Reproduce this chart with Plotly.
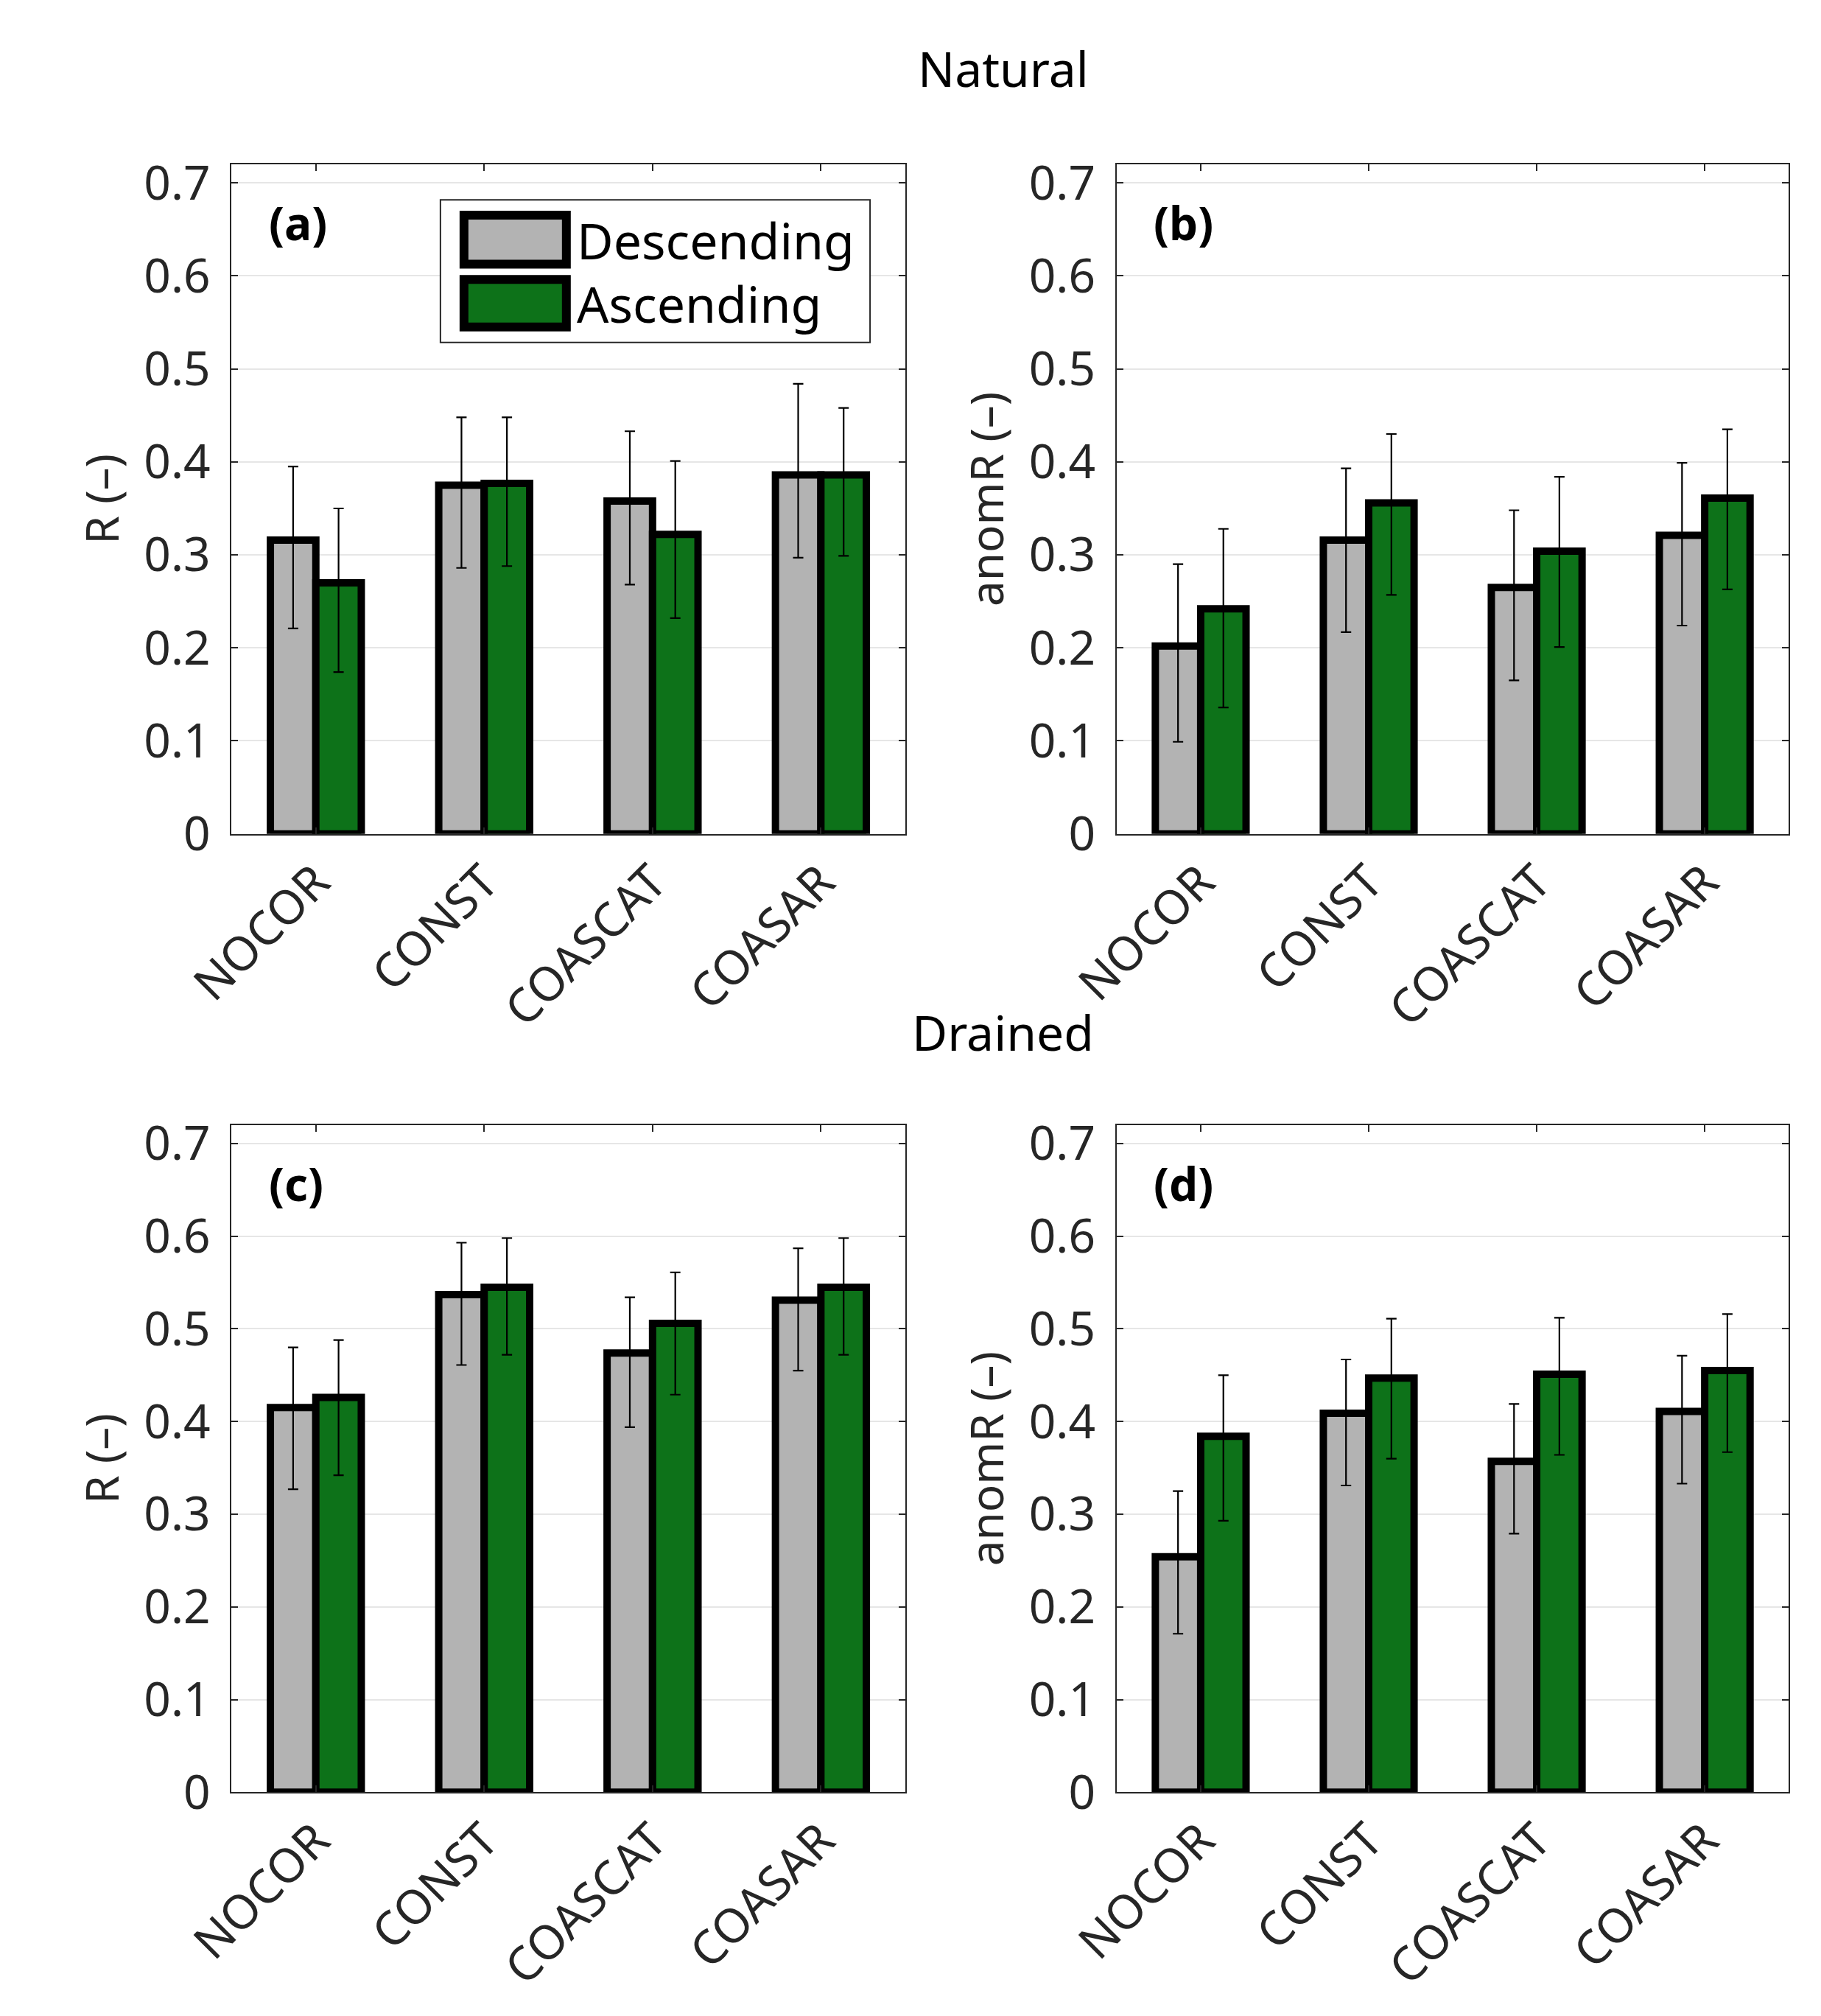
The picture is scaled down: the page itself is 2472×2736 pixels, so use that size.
import plotly.graph_objects as go

# categories on the x axis
methods = ["NOCOR", "CONST", "COASCAT", "COASAR"]

# Natural, R
nat_r_desc = [0.316, 0.375, 0.358, 0.386]
nat_r_desc_hi = [0.395, 0.448, 0.433, 0.484]
nat_r_desc_lo = [0.221, 0.286, 0.268, 0.297]
nat_r_asc = [0.270, 0.377, 0.322, 0.386]
nat_r_asc_hi = [0.350, 0.448, 0.401, 0.458]
nat_r_asc_lo = [0.174, 0.288, 0.232, 0.299]

# Natural, anomR
nat_ar_desc = [0.202, 0.316, 0.265, 0.321]
nat_ar_desc_hi = [0.290, 0.393, 0.348, 0.399]
nat_ar_desc_lo = [0.099, 0.217, 0.165, 0.224]
nat_ar_asc = [0.242, 0.356, 0.304, 0.361]
nat_ar_asc_hi = [0.328, 0.430, 0.384, 0.435]
nat_ar_asc_lo = [0.136, 0.257, 0.201, 0.263]

# Drained, R
dr_r_desc = [0.415, 0.537, 0.474, 0.531]
dr_r_desc_hi = [0.480, 0.593, 0.534, 0.587]
dr_r_desc_lo = [0.327, 0.461, 0.394, 0.455]
dr_r_asc = [0.426, 0.545, 0.506, 0.545]
dr_r_asc_hi = [0.488, 0.598, 0.561, 0.598]
dr_r_asc_lo = [0.342, 0.472, 0.429, 0.472]

# Drained, anomR
dr_ar_desc = [0.254, 0.409, 0.357, 0.411]
dr_ar_desc_hi = [0.325, 0.467, 0.419, 0.471]
dr_ar_desc_lo = [0.171, 0.331, 0.279, 0.333]
dr_ar_asc = [0.384, 0.447, 0.451, 0.455]
dr_ar_asc_hi = [0.450, 0.511, 0.512, 0.516]
dr_ar_asc_lo = [0.293, 0.360, 0.364, 0.367]

y_ticks = [0, 0.1, 0.2, 0.3, 0.4, 0.5, 0.6, 0.7]

GRAY = "#b3b3b3"
GREEN = "#0d7219"
FONT = "Noto Sans"
TXT = "#262626"

panels = [
    # (xaxis, yaxis, letter, ytitle, desc, desc_hi, desc_lo, asc, asc_hi, asc_lo)
    ("x", "y", "(a)", "R (–)", nat_r_desc, nat_r_desc_hi, nat_r_desc_lo,
     nat_r_asc, nat_r_asc_hi, nat_r_asc_lo),
    ("x2", "y2", "(b)", "anomR (–)", nat_ar_desc, nat_ar_desc_hi, nat_ar_desc_lo,
     nat_ar_asc, nat_ar_asc_hi, nat_ar_asc_lo),
    ("x3", "y3", "(c)", "R (–)", dr_r_desc, dr_r_desc_hi, dr_r_desc_lo,
     dr_r_asc, dr_r_asc_hi, dr_r_asc_lo),
    ("x4", "y4", "(d)", "anomR (–)", dr_ar_desc, dr_ar_desc_hi, dr_ar_desc_lo,
     dr_ar_asc, dr_ar_asc_hi, dr_ar_asc_lo),
]

x_domains = [[0.0977, 0.4786], [0.5983, 0.9784]]
y_domains = [[0.5874, 0.9271], [0.1012, 0.4397]]

fig = go.Figure()


def err(vals, hi, lo):
    return dict(type="data", symmetric=False,
                array=[h - v for v, h in zip(vals, hi)],
                arrayminus=[v - l for v, l in zip(vals, lo)],
                color="black", thickness=2.2, width=7)


for i, (xa, ya, letter, ytitle, d, dh, dl, a, ah, al) in enumerate(panels):
    fig.add_trace(go.Bar(x=methods, y=d, xaxis=xa, yaxis=ya, name="Descending",
                         marker=dict(color=GRAY, line=dict(color="black", width=10)),
                         error_y=err(d, dh, dl), showlegend=False))
    fig.add_trace(go.Bar(x=methods, y=a, xaxis=xa, yaxis=ya, name="Ascending",
                         marker=dict(color=GREEN, line=dict(color="black", width=10)),
                         error_y=err(a, ah, al), showlegend=False))

    sfx = "" if i == 0 else str(i + 1)
    axis_common = dict(showline=True, linecolor=TXT, linewidth=2, mirror="ticks",
                       ticks="inside", ticklen=9, tickwidth=2, tickcolor=TXT,
                       tickfont=dict(family=FONT, size=64, color=TXT))
    fig.layout["xaxis" + sfx] = dict(axis_common, domain=x_domains[i % 2],
                                     anchor="y" + sfx, range=[-0.5, 3.5],
                                     tickangle=-45, showgrid=False)
    fig.layout["yaxis" + sfx] = dict(axis_common, domain=y_domains[i // 2],
                                     anchor="x" + sfx, range=[0, 0.72],
                                     tickvals=y_ticks, showgrid=True,
                                     gridcolor="#e6e6e6", gridwidth=2,
                                     zeroline=False, ticklabelstandoff=14,
                                     title=dict(text=ytitle, standoff=14,
                                                font=dict(family=FONT, size=62, color=TXT)))

    fig.add_annotation(text="<b>" + letter + "</b>", xref=xa + " domain",
                       yref=ya + " domain", x=0.053, y=0.913, xanchor="left",
                       yanchor="middle", showarrow=False,
                       font=dict(family=FONT, size=62, color="black"))

# legend drawn inside panel (a)
fig.add_shape(type="rect", xref="x domain", yref="y domain", x0=0.310, x1=0.948,
              y0=0.734, y1=0.947, line=dict(color=TXT, width=2), fillcolor="white",
              layer="above")
for name, color, y0, y1 in [("Descending", GRAY, 0.847, 0.928),
                            ("Ascending", GREEN, 0.753, 0.832)]:
    fig.add_shape(type="rect", xref="x domain", yref="y domain", x0=0.345, x1=0.497,
                  y0=y0 + 0.004, y1=y1 - 0.004, line=dict(color="black", width=12),
                  fillcolor=color, layer="above")
    fig.add_annotation(text=name, xref="x domain", yref="y domain", x=0.510,
                       y=(y0 + y1) / 2, xanchor="left", yanchor="middle",
                       showarrow=False, font=dict(family=FONT, size=68, color="black"))

for title, ty in [("Natural", 0.976), ("Drained", 0.487)]:
    fig.add_annotation(text=title, xref="paper", yref="paper", x=0.534, y=ty,
                       xanchor="center", yanchor="middle", showarrow=False,
                       font=dict(family=FONT, size=66, color="black"))

fig.update_layout(width=2472, height=2736, barmode="group", bargap=0.46,
                  bargroupgap=0, plot_bgcolor="white", paper_bgcolor="white",
                  margin=dict(l=0, r=0, t=0, b=0))

fig.write_html("out.html")
